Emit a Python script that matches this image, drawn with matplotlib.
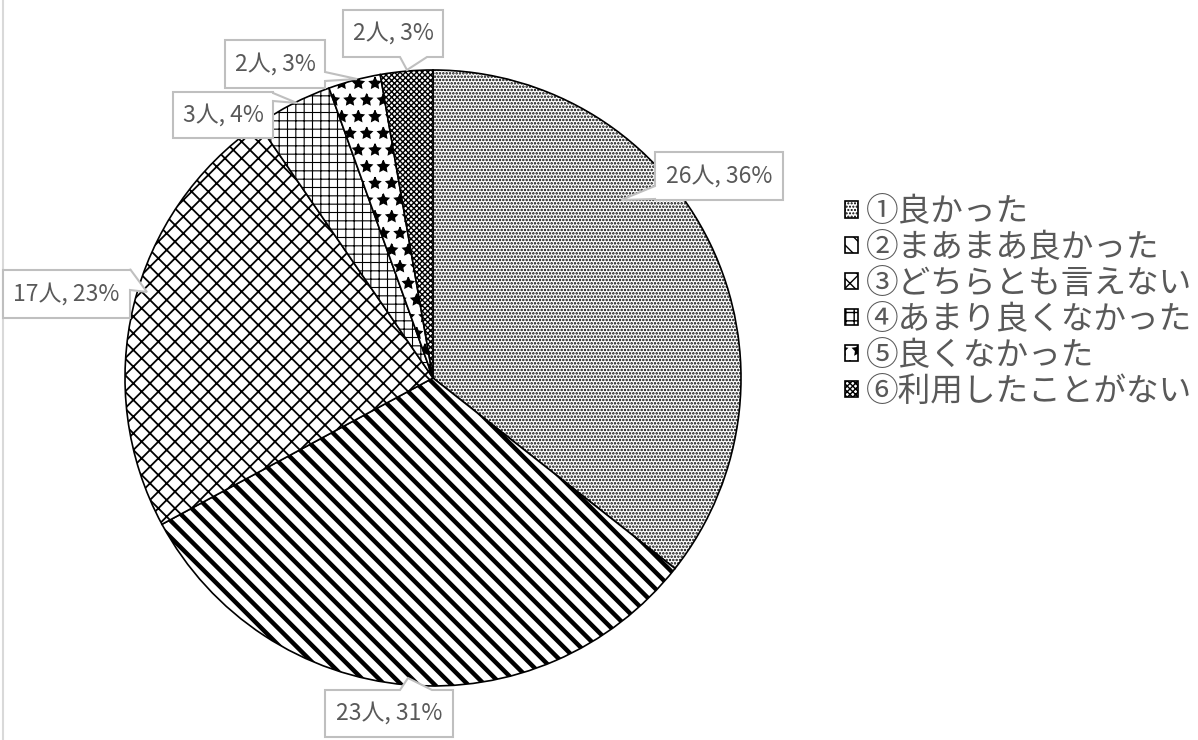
import matplotlib
matplotlib.use("Agg")
import matplotlib.pyplot as plt
from matplotlib.patches import Polygon

plt.rcParams['font.family'] = ['Noto Sans CJK JP', 'DejaVu Sans']

# data
categories = ['①良かった', '②まあまあ良かった', '③どちらとも言えない',
              '④あまり良くなかった', '⑤良くなかった', '⑥利用したことがない']
counts = [26, 23, 17, 3, 2, 2]
percents = [36, 31, 23, 4, 3, 3]

# style
HATCHES = ['.....', '\\\\', 'xx', '++', '*', 'xxxxxx']
HATCH_LW = [1.2, 3.2, 1.3, 0.8, 1.0, 1.0]
TXT = '#595959'
BOX_EDGE = '#bfbfbf'
W, H = 1198, 740
CENTER = (433, 378)   # pixels, y down
RADIUS = 308

# callout layout (pixels, y down): box, side, base span, tip
CALLOUTS = [
    ((655, 152, 783, 200), 'left', (186, 199), (621, 200)),
    ((325, 690, 453, 737), 'top', (400, 432), (408, 678)),
    ((3, 270, 130, 318), 'right', (269, 290), (147, 292)),
    ((173, 92, 273, 138), 'right', (93, 101), (297, 103)),
    ((225, 40, 325, 88), 'right', (72, 81), (357, 79)),
    ((343, 10, 443, 57), 'bottom', (427, 400), (407, 70)),
]


def Y(y):
    return H - y


def bubble(box, side, span, tip):
    x0, y0, x1, y1 = box
    a, b = span
    if side == 'left':
        pts = [(x0, y0), (x1, y0), (x1, y1), (x0, y1), (x0, b), tip, (x0, a)]
    elif side == 'right':
        pts = [(x0, y0), (x1, y0), (x1, a), tip, (x1, b), (x1, y1), (x0, y1)]
    elif side == 'top':
        pts = [(x0, y0), (a, y0), tip, (b, y0), (x1, y0), (x1, y1), (x0, y1)]
    else:
        pts = [(x0, y0), (x1, y0), (x1, y1), (a, y1), tip, (b, y1), (x0, y1)]
    return [(px, Y(py)) for px, py in pts]


fig = plt.figure(figsize=(W / 100, H / 100), dpi=100)
ax = fig.add_axes([0, 0, 1, 1])

wedges, _ = ax.pie(counts, startangle=90, counterclock=False,
                   center=(CENTER[0], Y(CENTER[1])), radius=RADIUS,
                   wedgeprops=dict(facecolor='white', edgecolor='black',
                                   linewidth=1.2))
for w, h, lw in zip(wedges, HATCHES, HATCH_LW):
    w.set_hatch(h)
    try:
        w.set_hatch_linewidth(lw)
    except AttributeError:
        pass

# data labels in callout boxes
for (box, side, span, tip), n, p in zip(CALLOUTS, counts, percents):
    ax.add_patch(Polygon(bubble(box, side, span, tip), closed=True,
                         facecolor='white', edgecolor=BOX_EDGE,
                         linewidth=1.5, zorder=5))
    ax.text((box[0] + box[2]) / 2, Y((box[1] + box[3]) / 2),
            f'{n}人, {p}%', ha='center', va='center', fontsize=16.5,
            color=TXT, zorder=6)

# chart frame edge on the left
ax.plot([2.5, 2.5], [0, H], color='#d9d9d9', linewidth=1.5)

ax.set_xlim(0, W)
ax.set_ylim(0, H)
ax.set_aspect('auto')
ax.axis('off')

leg = ax.legend(wedges, categories, loc='upper left',
                bbox_to_anchor=(845 / W, 1 - 196 / H), frameon=False,
                fontsize=23.5, labelcolor=TXT, handlelength=0.4,
                handleheight=0.4, handletextpad=0.25, labelspacing=0.12,
                borderaxespad=0, borderpad=0)

fig.savefig('out.png', dpi=100)
